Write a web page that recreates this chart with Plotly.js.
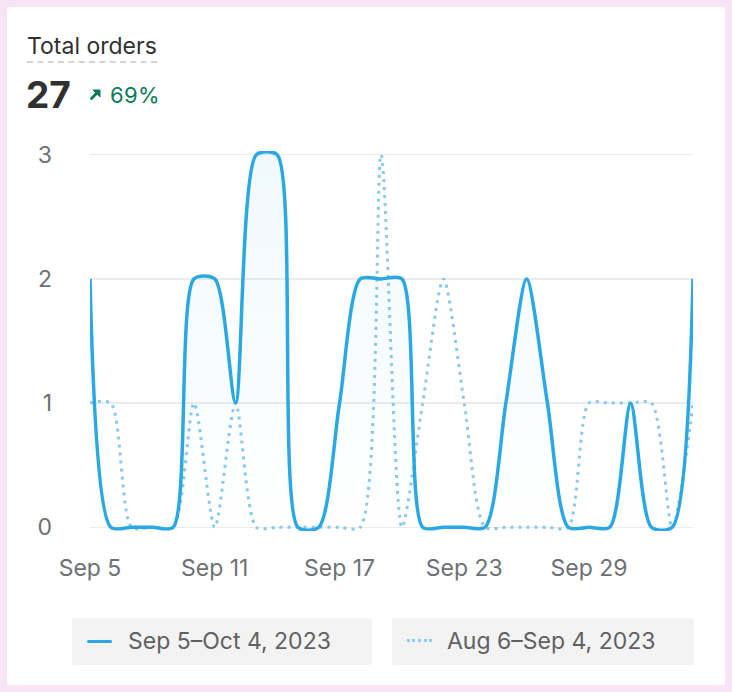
<!DOCTYPE html>
<html>
<head>
<meta charset="utf-8">
<script src="https://cdn.plot.ly/plotly-3.0.1.min.js"></script>
<style>
  html, body { margin: 0; padding: 0; }
  body { width: 732px; height: 692px; background: #f7e4f4; position: relative; overflow: hidden; font-family: Inter, "Noto Sans", sans-serif; }
  #card { position: absolute; left: 7px; top: 7px; width: 718px; height: 678px; background: #ffffff; border-radius: 2px; }
  #chart { position: absolute; left: 0; top: 0; width: 732px; height: 692px; }
  #title { position: absolute; left: 27px; top: 33px; font-size: 23px; color: #303030; line-height: 26px; padding-bottom: 2px; border-bottom: 2px dashed #d4d4d4; }
  #value { position: absolute; left: 26px; top: 73px; font-size: 37px; font-weight: 700; color: #303030; line-height: 44px; }
  #delta { position: absolute; left: 89px; top: 82px; font-size: 22px; color: #0b7a58; line-height: 26px; letter-spacing: 0.3px; }
  #delta svg { position: absolute; left: 0px; top: 6px; }
  #delta span { position: absolute; left: 21px; top: 0; white-space: nowrap; }
  .leg { position: absolute; top: 618px; height: 47px; background: #f3f3f3; border-radius: 3px; font-size: 23px; color: #616161; line-height: 47px; }
  .sw { position: absolute; top: 22px; width: 25px; height: 0; }
</style>
</head>
<body>
<div id="card"></div>
<div id="chart"></div>
<div id="title">Total orders</div>
<div id="value">27</div>
<div id="delta"><svg width="13" height="13" viewBox="0 0 13 13"><path d="M2.5 10.5 L8.5 4.5" stroke="#0b7a58" stroke-width="2.8" stroke-linecap="round"/><path d="M4 2 L11 2 L11 9 Z" fill="#0b7a58" stroke="#0b7a58" stroke-width="1" stroke-linejoin="round"/></svg><span>69%</span></div>
<div class="leg" style="left:72px;width:300px;"><div class="sw" style="left:15px;border-top:3.5px solid #29a8e4;border-radius:2px;"></div><span style="position:absolute;left:56px;">Sep 5–Oct 4, 2023</span></div>
<div class="leg" style="left:392px;width:302px;"><div class="sw" style="left:15px;top:21px;border-top:3px dotted #8fcdee;"></div><span style="position:absolute;left:55px;">Aug 6–Sep 4, 2023</span></div>
<script>
const dates = ["2023-09-05","2023-09-06","2023-09-07","2023-09-08","2023-09-09","2023-09-10","2023-09-11","2023-09-12","2023-09-13","2023-09-14","2023-09-15","2023-09-16","2023-09-17","2023-09-18","2023-09-19","2023-09-20","2023-09-21","2023-09-22","2023-09-23","2023-09-24","2023-09-25","2023-09-26","2023-09-27","2023-09-28","2023-09-29","2023-09-30","2023-10-01","2023-10-02","2023-10-03","2023-10-04"];
const currentOrders = [2,0,0,0,0,2,2,1,3,3,0,0,1,2,2,2,0,0,0,0,1,2,1,0,0,0,1,0,0,2];
const previousOrders = [1,1,0,0,0,1,0,1,0,0,0,0,0,0,3,0,1,2,1,0,0,0,0,0,1,1,1,1,0,1];
const tickVals = ["2023-09-05","2023-09-11","2023-09-17","2023-09-23","2023-09-29"];
const tickText = ["Sep 5","Sep 11","Sep 17","Sep 23","Sep 29"];
const yTicks = [0,1,2,3];

const traces = [
  {
    x: dates, y: previousOrders, type: "scatter", mode: "lines",
    line: {shape: "spline", smoothing: 0.75, color: "#88c9ec", width: 3, dash: "3px,5px"},
    hoverinfo: "skip", showlegend: false
  },
  {
    x: dates, y: currentOrders, type: "scatter", mode: "lines",
    line: {shape: "spline", smoothing: 0.75, color: "#29a8e4", width: 3.5},
    fill: "tozeroy",
    fillgradient: {type: "vertical", colorscale: [[0, "rgba(41,168,228,0.0)"], [1, "rgba(41,168,228,0.07)"]]},
    hoverinfo: "skip", showlegend: false
  }
];

const layout = {
  width: 732, height: 692,
  margin: {l: 90, r: 39, t: 151.3, b: 161.3},
  paper_bgcolor: "rgba(0,0,0,0)", plot_bgcolor: "rgba(0,0,0,0)",
  font: {family: "Inter, 'Noto Sans', sans-serif", color: "#6d7175", size: 22},
  showlegend: false,
  xaxis: {
    type: "date", range: ["2023-09-05", "2023-10-04"],
    tickmode: "array", tickvals: tickVals, ticktext: tickText,
    showgrid: false, zeroline: false, showline: false, ticks: "",
    ticklabelstandoff: 21, tickfont: {size: 23, color: "#6d7175"}, fixedrange: true
  },
  yaxis: {
    range: [-0.03, 3.03], tickmode: "array", tickvals: yTicks,
    showgrid: true, gridcolor: "#ebebeb", gridwidth: 1.5, zeroline: false, showline: false, ticks: "",
    ticklabelstandoff: 37, tickfont: {size: 23, color: "#6d7175"}, fixedrange: true
  }
};

Plotly.newPlot("chart", traces, layout, {displayModeBar: false, staticPlot: true});
</script>
</body>
</html>
